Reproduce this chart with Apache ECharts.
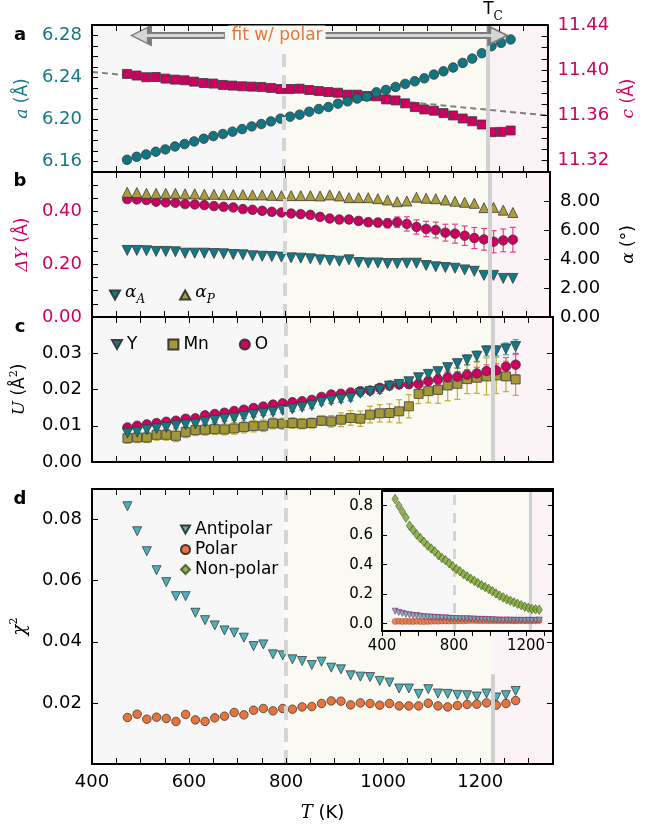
<!DOCTYPE html>
<html>
<head>
<meta charset="utf-8">
<script src="https://cdn.jsdelivr.net/npm/echarts@6/dist/echarts.min.js"></script>
<style>
  html, body { margin: 0; padding: 0; background: #fff; }
  #chart { width: 645px; height: 827px; }
</style>
</head>
<body>
<div id="chart"></div>
<script>
// temperatures (K)
var temps = [473, 493, 513, 533, 553, 573, 593, 613, 633, 653, 673, 693, 713, 733, 753, 773, 793, 813, 833, 853,
  873, 893, 913, 933, 953, 973, 993, 1013, 1033, 1053, 1073, 1093, 1113, 1133, 1153, 1173, 1193, 1213, 1233, 1253, 1273];

// panel a: lattice parameters
var latA = [6.1616, 6.1645, 6.1667, 6.1693, 6.1715, 6.1743, 6.1766, 6.1791, 6.1817, 6.1842, 6.1862, 6.1884, 6.1909, 6.1934,
  6.1957, 6.1982, 6.2008, 6.2027, 6.2046, 6.2074, 6.2100, 6.2119, 6.2151, 6.2173, 6.2199, 6.2218, 6.2259, 6.2282, 6.2310,
  6.2339, 6.2364, 6.2392, 6.2428, 6.2459, 6.2495, 6.2539, 6.2580, 6.2631, 6.2698, 6.2730, 6.2762];
var latC = [11.3967, 11.3953, 11.3938, 11.3940, 11.3926, 11.3917, 11.3911, 11.3899, 11.3887, 11.3882, 11.3870, 11.3864,
  11.3858, 11.3855, 11.3852, 11.3843, 11.3834, 11.3834, 11.3837, 11.3825, 11.3816, 11.3807, 11.3801, 11.3784, 11.3784,
  11.3772, 11.3769, 11.3742, 11.3733, 11.3707, 11.3674, 11.3653, 11.3642, 11.3621, 11.3600, 11.3573, 11.3549, 11.3520,
  11.3452, 11.3455, 11.3467];
var fitC = [[400, 11.3985], [1350, 11.3600]];

// panel b: displacement and tilt angles
var deltaY = [0.4474, 0.4461, 0.4436, 0.4372, 0.4347, 0.4334, 0.4283, 0.4270, 0.4245, 0.4207, 0.4181, 0.4156, 0.4092,
  0.4066, 0.4028, 0.3990, 0.3965, 0.3927, 0.3902, 0.3875, 0.3799, 0.3735, 0.3697, 0.3697, 0.3645, 0.3595, 0.3582, 0.3556,
  0.3595, 0.3530, 0.3415, 0.3339, 0.3300, 0.3199, 0.3161, 0.3084, 0.2994, 0.2944, 0.2855, 0.2906, 0.2932];
var deltaYErr = [0.004, 0.004, 0.004, 0.005, 0.005, 0.005, 0.005, 0.006, 0.006, 0.006, 0.006, 0.007, 0.007, 0.007, 0.008,
  0.008, 0.008, 0.009, 0.009, 0.010, 0.010, 0.011, 0.012, 0.013, 0.014, 0.015, 0.016, 0.017, 0.020, 0.027, 0.027, 0.029,
  0.030, 0.032, 0.036, 0.037, 0.040, 0.041, 0.042, 0.043, 0.047];
var alphaA = [4.59, 4.59, 4.57, 4.52, 4.52, 4.50, 4.40, 4.40, 4.40, 4.38, 4.36, 4.31, 4.29, 4.22, 4.19, 4.17, 4.13, 4.08,
  4.06, 4.01, 3.94, 3.90, 3.85, 3.94, 3.76, 3.73, 3.73, 3.69, 3.69, 3.71, 3.71, 3.55, 3.46, 3.41, 3.36, 3.25, 3.15, 2.87,
  2.87, 2.66, 2.66];
var alphaP = [8.60, 8.58, 8.53, 8.53, 8.53, 8.53, 8.49, 8.49, 8.46, 8.46, 8.44, 8.44, 8.44, 8.42, 8.42, 8.39, 8.37, 8.37,
  8.37, 8.37, 8.35, 8.42, 8.35, 8.23, 8.23, 8.23, 8.16, 8.07, 7.95, 8.00, 8.26, 8.19, 8.16, 8.07, 7.98, 7.91, 7.84, 7.54,
  7.56, 7.37, 7.21];

// panel c: displacement parameters
var uY = [0.00796, 0.00824, 0.00889, 0.00917, 0.00953, 0.01000, 0.01028, 0.01046, 0.01102, 0.01148, 0.01185, 0.01213,
  0.01259, 0.01306, 0.01343, 0.01380, 0.01426, 0.01463, 0.01509, 0.01556, 0.01648, 0.01694, 0.01731, 0.01769, 0.01898,
  0.01944, 0.01990, 0.02093, 0.02139, 0.02213, 0.02324, 0.02417, 0.02491, 0.02602, 0.02713, 0.02815, 0.02917, 0.03065,
  0.03065, 0.03120, 0.03185];
var uYErr = [0.0006, 0.0006, 0.0006, 0.0006, 0.0006, 0.0006, 0.0006, 0.0006, 0.0006, 0.0006, 0.0006, 0.0006, 0.0006,
  0.0006, 0.0006, 0.0007, 0.0007, 0.0007, 0.0007, 0.0007, 0.0007, 0.0008, 0.0008, 0.0008, 0.0008, 0.0008, 0.0010, 0.0010,
  0.0010, 0.0010, 0.0010, 0.0012, 0.0012, 0.0012, 0.0012, 0.0014, 0.0014, 0.0014, 0.0014, 0.0016, 0.0019];
var uMn = [0.00657, 0.00676, 0.00676, 0.00750, 0.00750, 0.00722, 0.00824, 0.00880, 0.00889, 0.00907, 0.00898, 0.00926,
  0.00963, 0.00990, 0.01000, 0.01065, 0.01056, 0.01074, 0.01056, 0.01074, 0.01139, 0.01120, 0.01167, 0.01213, 0.01194,
  0.01306, 0.01343, 0.01352, 0.01398, 0.01537, 0.01880, 0.01954, 0.01990, 0.02111, 0.02157, 0.02287, 0.02324, 0.02361,
  0.02389, 0.02361, 0.02278];
var uMnErr = [0.0014, 0.0014, 0.0014, 0.0015, 0.0015, 0.0016, 0.0015, 0.0015, 0.0015, 0.0015, 0.0015, 0.0016, 0.0016,
  0.0016, 0.0016, 0.0015, 0.0015, 0.0015, 0.0014, 0.0014, 0.0013, 0.0016, 0.0019, 0.0020, 0.0021, 0.0023, 0.0024, 0.0025,
  0.0032, 0.0032, 0.0027, 0.0032, 0.0037, 0.0042, 0.0043, 0.0040, 0.0043, 0.0051, 0.0050, 0.0042, 0.0044];
var uO = [0.00953, 0.01000, 0.01037, 0.01074, 0.01110, 0.01139, 0.01194, 0.01204, 0.01287, 0.01324, 0.01360, 0.01407,
  0.01444, 0.01490, 0.01528, 0.01583, 0.01620, 0.01648, 0.01676, 0.01713, 0.01796, 0.01861, 0.01880, 0.01917, 0.01954,
  0.01972, 0.02046, 0.02111, 0.02139, 0.02148, 0.02157, 0.02231, 0.02278, 0.02333, 0.02352, 0.02407, 0.02444, 0.02509,
  0.02528, 0.02630, 0.02685];
var uOErr = [0.0006, 0.0006, 0.0006, 0.0006, 0.0006, 0.0006, 0.0006, 0.0006, 0.0006, 0.0006, 0.0006, 0.0006, 0.0006,
  0.0006, 0.0006, 0.0006, 0.0007, 0.0007, 0.0007, 0.0007, 0.0007, 0.0007, 0.0007, 0.0009, 0.0009, 0.0009, 0.0009, 0.0009,
  0.0011, 0.0011, 0.0011, 0.0011, 0.0014, 0.0014, 0.0014, 0.0014, 0.0017, 0.0017, 0.0018, 0.0025, 0.0028];

// panel d: goodness of fit
var chiAnti = [0.08435, 0.07618, 0.06964, 0.06343, 0.05951, 0.05494, 0.05494, 0.04950, 0.04708, 0.04536, 0.04373,
  0.04297, 0.04134, 0.03859, 0.03915, 0.03588, 0.03556, 0.03425, 0.03370, 0.03240, 0.03349, 0.03153, 0.03098, 0.02902,
  0.02859, 0.02846, 0.02719, 0.02667, 0.02471, 0.02471, 0.02294, 0.02448, 0.02307, 0.02294, 0.02261, 0.02252, 0.02209,
  0.02307, 0.02177, 0.02252, 0.02390];
var chiPolar = [0.01523, 0.01631, 0.01467, 0.01533, 0.01490, 0.01392, 0.01621, 0.01444, 0.01392, 0.01510, 0.01565,
  0.01686, 0.01608, 0.01761, 0.01817, 0.01739, 0.01817, 0.01794, 0.01869, 0.01882, 0.01980, 0.02065, 0.02055, 0.01935,
  0.02000, 0.01980, 0.01925, 0.01980, 0.01902, 0.01902, 0.01902, 0.01990, 0.01902, 0.01869, 0.01914, 0.01947, 0.01957,
  0.02000, 0.01925, 0.01980, 0.02075];
var chiNonPolar = [0.845, 0.800, 0.760, 0.720, 0.665, 0.635, 0.605, 0.580, 0.555, 0.530, 0.510, 0.490, 0.465, 0.445,
  0.430, 0.410, 0.390, 0.370, 0.355, 0.335, 0.320, 0.305, 0.290, 0.275, 0.260, 0.248, 0.235, 0.220, 0.205, 0.190, 0.178,
  0.165, 0.155, 0.145, 0.135, 0.125, 0.115, 0.108, 0.100, 0.097, 0.095];

// reference temperatures and ticks
var tFit = 800, tC = 1225, tcLineTopD = 0.0294;
var xTicks = [400, 450, 500, 550, 600, 650, 700, 750, 800, 850, 900, 950, 1000, 1050, 1100, 1150, 1200, 1250, 1300, 1350];
var xTicksTopD = [400, 450, 500, 550, 600, 650, 700, 750, 800, 850, 900, 950];
var xLabels = [400, 600, 800, 1000, 1200];
var insetXTicks = [400, 500, 600, 700, 800, 900, 1000, 1100, 1200, 1300];
var insetXLabels = [400, 800, 1200];
var aTicks = [6.16, 6.17, 6.18, 6.19, 6.20, 6.21, 6.22, 6.23, 6.24, 6.25, 6.26, 6.27, 6.28];
var aLabels = [6.16, 6.20, 6.24, 6.28];
var cTicks = [11.32, 11.33, 11.34, 11.35, 11.36, 11.37, 11.38, 11.39, 11.40, 11.41, 11.42, 11.43];
var cLabels = [11.32, 11.36, 11.40, 11.44];
var dyTicks = [0.05, 0.10, 0.15, 0.20, 0.25, 0.30, 0.35, 0.40, 0.45, 0.50];
var dyLabels = [0, 0.20, 0.40];
var alTicks = [2, 4, 6, 8];
var alLabels = [0, 2, 4, 6, 8];
var uTicks = [0.01, 0.02, 0.03];
var uLabels = [0, 0.01, 0.02, 0.03];
var chiTicks = [0.02, 0.04, 0.06, 0.08];
var chiRightTicks = [0.02, 0.04];
var insetYTicks = [0, 0.2, 0.4, 0.6, 0.8];

var FONT = 'DejaVu Sans', SERIF = 'DejaVu Serif';
var TEAL = '#127a87', CRIMSON = '#d0005f', OLIVE = '#a89b36', CYAN = '#4db1ba', ORANGE = '#e8743b', GREEN = '#79a22b';
var EDGE = '#3a3a3a';

function pts(vals) {
  return temps.map(function (t, i) { return [t, vals[i]]; });
}

function xAx(gi, pos, ticks, labels, extra) {
  var ax = {
    type: 'value', gridIndex: gi, position: pos, min: 400, max: 1350, z: 50,
    axisLine: { show: true, onZero: false, lineStyle: { color: '#000', width: 2 } },
    axisTick: { show: true, inside: true, length: 6, customValues: ticks, lineStyle: { color: '#000', width: 1 } },
    axisLabel: { show: !!labels, customValues: labels || ticks, fontFamily: FONT, fontSize: 18, color: '#000', margin: 9,
      formatter: function (v) { return String(v); } },
    splitLine: { show: false }
  };
  for (var k in extra) ax[k] = extra[k];
  return ax;
}

function yAx(gi, pos, min, max, ticks, labels, color, digits, extra) {
  var ax = {
    type: 'value', gridIndex: gi, position: pos, min: min, max: max, z: 50,
    axisLine: { show: true, onZero: false, lineStyle: { color: '#000', width: 2 } },
    axisTick: { show: true, inside: true, length: 6, customValues: ticks, lineStyle: { color: '#000', width: 1 } },
    axisLabel: {
      show: !!labels, customValues: labels || ticks, fontFamily: FONT, fontSize: 18, color: color, margin: 10,
      formatter: function (v) { return v.toFixed(digits); }
    },
    splitLine: { show: false }
  };
  for (var k in extra) ax[k] = extra[k];
  return ax;
}

function bgSeries(xi, yi, z, w, dash, tcLine) {
  return {
    type: 'line', xAxisIndex: xi, yAxisIndex: yi, z: z, data: [], silent: true,
    markArea: {
      silent: true,
      data: [
        [{ xAxis: 400, itemStyle: { color: '#f7f7f7' } }, { xAxis: tFit }],
        [{ xAxis: tFit, itemStyle: { color: '#fafaf3' } }, { xAxis: tC }],
        [{ xAxis: tC, itemStyle: { color: '#fcf3f7' } }, { xAxis: 1350 }]
      ]
    },
    markLine: {
      silent: true, symbol: 'none', label: { show: false }, animation: false,
      data: [
        { xAxis: tFit, lineStyle: { color: '#d5d5d5', width: w, type: dash } },
        tcLine || { xAxis: tC, lineStyle: { color: '#d0d0d0', width: w, type: 'solid' } }
      ]
    }
  };
}

function errSeries(vals, errs, color, xi, yi, z) {
  return {
    type: 'custom', xAxisIndex: xi, yAxisIndex: yi, z: z, silent: true,
    data: temps.map(function (t, i) { return [t, vals[i] - errs[i], vals[i] + errs[i]]; }),
    encode: { x: 0, y: [1, 2] },
    renderItem: function (params, api) {
      var lo = api.coord([api.value(0), api.value(1)]);
      var hi = api.coord([api.value(0), api.value(2)]);
      var s = { stroke: color, lineWidth: 1.2 };
      return {
        type: 'group', children: [
          { type: 'line', shape: { x1: lo[0], y1: lo[1], x2: hi[0], y2: hi[1] }, style: s },
          { type: 'line', shape: { x1: lo[0] - 3, y1: lo[1], x2: lo[0] + 3, y2: lo[1] }, style: s },
          { type: 'line', shape: { x1: hi[0] - 3, y1: hi[1], x2: hi[0] + 3, y2: hi[1] }, style: s }
        ]
      };
    }
  };
}

function scat(name, vals, xi, yi, symbol, size, color, z, extra) {
  var s = {
    name: name, type: 'scatter', xAxisIndex: xi, yAxisIndex: yi, z: z,
    data: pts(vals), symbol: symbol, symbolSize: size,
    itemStyle: { color: color, borderColor: EDGE, borderWidth: 0.8, opacity: 1 }
  };
  for (var k in extra) s[k] = extra[k];
  return s;
}

function arrowSeries(z, color, width, head, from, to) {
  return {
    type: 'line', xAxisIndex: 0, yAxisIndex: 0, z: z, data: [], silent: true,
    markLine: {
      silent: true, animation: false, label: { show: false },
      symbol: ['none', 'triangle'], symbolSize: head,
      lineStyle: { color: color, width: width, type: 'solid' },
      data: [
        [{ coord: [from[0], 6.28] }, { coord: [from[1], 6.28] }],
        [{ coord: [to[0], 6.28] }, { coord: [to[1], 6.28] }]
      ]
    }
  };
}

var downTri = 'path://M0,0L10,0L5,9Z';
var upTri = 'path://M5,0L10,9L0,9Z';

var chart = echarts.init(document.getElementById('chart'));
var option = {
  animation: false,
  backgroundColor: '#fff',
  textStyle: { fontFamily: FONT },
  grid: [
    { left: 92, top: 25, width: 461, height: 147 },
    { left: 92, top: 172, width: 461, height: 145 },
    { left: 92, top: 317, width: 461, height: 145 },
    { left: 92, top: 489, width: 461, height: 275 },
    { left: 382, top: 491, width: 171, height: 140 }
  ],
  xAxis: [
    xAx(0, 'bottom', xTicks), xAx(0, 'top', xTicks),
    xAx(1, 'bottom', xTicks), xAx(1, 'top', xTicks),
    xAx(2, 'bottom', xTicks), xAx(2, 'top', xTicks),
    xAx(3, 'bottom', xTicks, xLabels, {
      name: '{i|T} (K)', nameLocation: 'middle', nameGap: 40,
      nameTextStyle: { fontFamily: FONT, fontSize: 18, color: '#000', rich: { i: { fontFamily: SERIF, fontStyle: 'italic', fontSize: 18 } } }
    }),
    xAx(3, 'top', xTicksTopD),
    xAx(4, 'bottom', insetXTicks, insetXLabels, {
      z: 60,
      axisTick: { show: true, inside: false, length: 5, customValues: insetXTicks, lineStyle: { color: '#000', width: 1 } },
      axisLabel: { show: true, customValues: insetXLabels, fontFamily: FONT, fontSize: 15, color: '#000', margin: 8,
        formatter: function (v) { return String(v); } }
    }),
    xAx(4, 'top', [], null, { z: 60, axisTick: { show: false } })
  ],
  yAxis: [
    yAx(0, 'left', 6.15, 6.29, aTicks, aLabels, TEAL, 2, {
      name: '{i|a} (Å)', nameLocation: 'middle', nameGap: 61, nameRotate: 90,
      nameTextStyle: { fontFamily: FONT, fontSize: 17, color: TEAL, rich: { i: { fontFamily: SERIF, fontStyle: 'italic', fontSize: 17, color: TEAL } } }
    }),
    yAx(0, 'right', 11.31, 11.44, cTicks, cLabels, CRIMSON, 2, {
      name: '{i|c} (Å)', nameLocation: 'middle', nameGap: 72, nameRotate: 90,
      nameTextStyle: { fontFamily: FONT, fontSize: 17, color: CRIMSON, rich: { i: { fontFamily: SERIF, fontStyle: 'italic', fontSize: 17, color: CRIMSON } } }
    }),
    yAx(1, 'left', 0, 0.55, dyTicks, dyLabels, CRIMSON, 2, {
      name: '{i|ΔY} (Å)', nameLocation: 'middle', nameGap: 61, nameRotate: 90,
      nameTextStyle: { fontFamily: FONT, fontSize: 17, color: CRIMSON, rich: { i: { fontFamily: SERIF, fontStyle: 'italic', fontSize: 17, color: CRIMSON } } }
    }),
    yAx(1, 'right', 0, 10, alTicks, alLabels, '#000', 2, {
      name: '{i|α} (°)', nameLocation: 'middle', nameGap: 70, nameRotate: 90,
      nameTextStyle: { fontFamily: FONT, fontSize: 17, color: '#000', rich: { i: { fontFamily: SERIF, fontStyle: 'italic', fontSize: 17, color: '#000' } } }
    }),
    yAx(2, 'left', 0, 0.04, uTicks, uLabels, '#000', 2, {
      name: '{i|U} (Å{s|2})', nameLocation: 'middle', nameGap: 61, nameRotate: 90,
      nameTextStyle: { fontFamily: FONT, fontSize: 17, color: '#000', rich: {
        i: { fontFamily: SERIF, fontStyle: 'italic', fontSize: 17, color: '#000' },
        s: { fontFamily: SERIF, fontSize: 11, color: '#000', verticalAlign: 'top', lineHeight: 22 } } }
    }),
    yAx(2, 'right', 0, 0.04, uTicks, null, '#000', 2),
    yAx(3, 'left', 0, 0.09, chiTicks, chiTicks, '#000', 2, {
      name: '{i|χ}{s|2}', nameLocation: 'middle', nameGap: 61, nameRotate: 90,
      nameTextStyle: { fontFamily: FONT, fontSize: 17, color: '#000', rich: {
        i: { fontFamily: SERIF, fontStyle: 'italic', fontSize: 18, color: '#000' },
        s: { fontFamily: SERIF, fontSize: 11, color: '#000', verticalAlign: 'top', lineHeight: 22 } } }
    }),
    yAx(3, 'right', 0, 0.09, chiRightTicks, null, '#000', 2),
    yAx(4, 'left', -0.05, 0.9, insetYTicks, insetYTicks, '#000', 1, {
      z: 60,
      axisTick: { show: true, inside: true, length: 5, customValues: insetYTicks, lineStyle: { color: '#000', width: 1 } },
      axisLabel: { show: true, customValues: insetYTicks, fontFamily: FONT, fontSize: 15, color: '#000', margin: 9,
        formatter: function (v) { return v.toFixed(1); } }
    }),
    yAx(4, 'right', -0.05, 0.9, insetYTicks, null, '#000', 1, {
      z: 60,
      axisTick: { show: true, inside: true, length: 5, customValues: insetYTicks, lineStyle: { color: '#000', width: 1 } }
    })
  ],
  legend: [
    {
      left: 104, top: 279, itemGap: 34, itemWidth: 10, itemHeight: 10, selectedMode: false,
      data: [{ name: 'alphaA', icon: downTri }, { name: 'alphaP', icon: upTri }],
      formatter: function (n) { return n === 'alphaA' ? '{g|α}{s|A}' : '{g|α}{s|P}'; },
      textStyle: { color: '#000', rich: {
        g: { fontFamily: SERIF, fontStyle: 'italic', fontSize: 17, lineHeight: 22, verticalAlign: 'top', color: '#000' },
        s: { fontFamily: SERIF, fontStyle: 'italic', fontSize: 12, lineHeight: 22, verticalAlign: 'bottom', color: '#000' } } }
    },
    {
      left: 106, top: 331, itemGap: 30, itemWidth: 10, itemHeight: 10, selectedMode: false,
      data: [{ name: 'Y', icon: downTri }, { name: 'Mn', icon: 'rect' }, { name: 'O', icon: 'circle' }],
      textStyle: { fontFamily: FONT, fontSize: 17, color: '#000' }
    },
    {
      left: 175, top: 516, orient: 'vertical', itemGap: 3, itemWidth: 9, itemHeight: 9, selectedMode: false,
      data: [{ name: 'Antipolar', icon: downTri }, { name: 'Polar', icon: 'circle' }, { name: 'Non-polar', icon: 'diamond' }],
      textStyle: { fontFamily: FONT, fontSize: 17, color: '#000' }
    }
  ],
  graphic: [
    { type: 'text', x: 20, y: 35, z: 100, style: { text: 'a', font: 'bold 18px "DejaVu Sans"', fill: '#000', align: 'center', verticalAlign: 'middle' } },
    { type: 'text', x: 20, y: 181, z: 100, style: { text: 'b', font: 'bold 18px "DejaVu Sans"', fill: '#000', align: 'center', verticalAlign: 'middle' } },
    { type: 'text', x: 20, y: 327, z: 100, style: { text: 'c', font: 'bold 18px "DejaVu Sans"', fill: '#000', align: 'center', verticalAlign: 'middle' } },
    { type: 'text', x: 20, y: 499, z: 100, style: { text: 'd', font: 'bold 18px "DejaVu Sans"', fill: '#000', align: 'center', verticalAlign: 'middle' } },
    { type: 'text', x: 493, y: 12, z: 100, style: {
      text: '{t|T}{s|C}', align: 'center', verticalAlign: 'middle',
      rich: { t: { fontFamily: FONT, fontSize: 17, fill: '#000', lineHeight: 22, verticalAlign: 'top' },
              s: { fontFamily: SERIF, fontSize: 12, fill: '#000', lineHeight: 22, verticalAlign: 'bottom' } } } },
    { type: 'text', x: 277, y: 36, z: 100, style: {
      text: 'fit w/ polar', font: '17px "DejaVu Sans"', fill: ORANGE, align: 'center', verticalAlign: 'middle',
      backgroundColor: '#f9f9f5', padding: [2, 3] } }
  ],
  series: [
    // panel a
    bgSeries(0, 0, 1, 4, [13, 8]),
    arrowSeries(4, '#7b7b7b', 7, 22, [677, 502], [876, 1247]),
    arrowSeries(5, '#d6d6d6', 3, 14, [675, 500], [878, 1247]),
    { type: 'line', xAxisIndex: 0, yAxisIndex: 1, z: 2, data: fitC, symbol: 'none', silent: true,
      lineStyle: { color: '#808080', width: 2, type: [6, 4] } },
    scat('c', latC, 0, 1, 'rect', 9, '#cc0060', 3),
    scat('a', latA, 0, 0, 'circle', 9.5, '#0f7683', 3),
    // panel b
    bgSeries(2, 2, 1, 4, [13, 8]),
    errSeries(deltaY, deltaYErr, '#e2448c', 2, 2, 2),
    scat('dY', deltaY, 2, 2, 'circle', 9.5, '#cc0060', 3),
    scat('alphaA', alphaA, 2, 3, 'triangle', 10, '#127a87', 3, { symbolRotate: 180 }),
    scat('alphaP', alphaP, 2, 3, 'triangle', 10, '#ab9e3a', 3),
    // panel c
    bgSeries(4, 4, 1, 4, [13, 8]),
    errSeries(uMn, uMnErr, '#bdae3c', 4, 4, 2),
    errSeries(uO, uOErr, '#e8509a', 4, 4, 2),
    errSeries(uY, uYErr, '#3aa2b4', 4, 4, 2),
    scat('Mn', uMn, 4, 4, 'rect', 9, '#a49836', 3),
    scat('O', uO, 4, 4, 'circle', 9.5, '#d0005f', 3),
    scat('Y', uY, 4, 4, 'triangle', 10, '#127a87', 4, { symbolRotate: 180 }),
    // panel d
    bgSeries(6, 6, 1, 4, [14, 8], [{ coord: [tC, 0], lineStyle: { color: '#d0d0d0', width: 4, type: 'solid' } }, { coord: [tC, tcLineTopD] }]),
    scat('Antipolar', chiAnti, 6, 6, 'triangle', 9, CYAN, 3, { symbolRotate: 180 }),
    scat('Polar', chiPolar, 6, 6, 'circle', 8.5, ORANGE, 3),
    // inset
    bgSeries(8, 8, 10, 3, [10, 8]),
    scat('Polar', chiPolar, 8, 8, 'circle', 6, ORANGE, 11, { itemStyle: { color: ORANGE, borderColor: '#8a4020', borderWidth: 0.6 } }),
    scat('Antipolar', chiAnti, 8, 8, 'triangle', 6, CYAN, 12, { symbolRotate: 180, itemStyle: { color: CYAN, borderColor: '#9a2060', borderWidth: 0.8 } }),
    scat('Non-polar', chiNonPolar, 8, 8, 'diamond', [6.5, 9.5], GREEN, 13, { itemStyle: { color: GREEN, borderColor: '#3b4d18', borderWidth: 0.7 } })
  ]
};
chart.setOption(option);
</script>
</body>
</html>
